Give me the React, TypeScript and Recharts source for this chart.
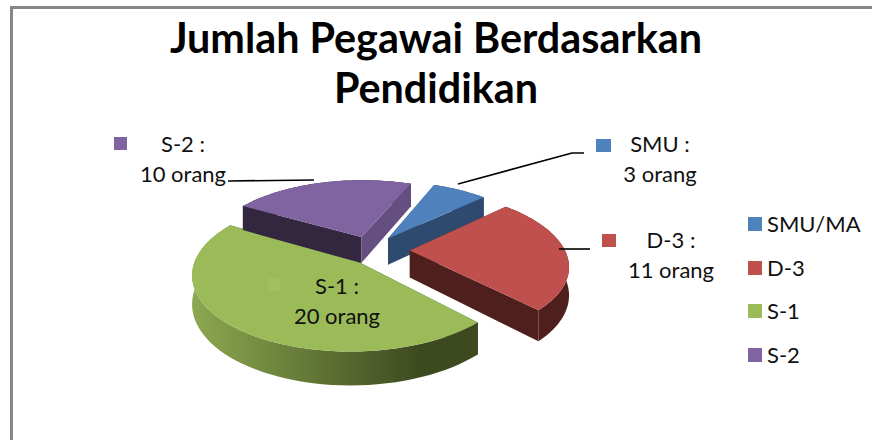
import React from "react";
import { PieChart, Pie, Cell, Legend } from "recharts";

const titleLines = ["Jumlah Pegawai Berdasarkan", "Pendidikan"];
const legendNames = ["SMU/MA", "D-3", "S-1", "S-2"];
const labelNames = ["SMU", "D-3", "S-1", "S-2"];
const values = [3, 11, 20, 10];
const unit = "orang";
const topColors = ["#4f81bd", "#c0504d", "#9bbb59", "#8064a2"];
const wallFrom = ["#2e4a6e", "#4f1f1e", "#8ca850", "#33263f"];
const wallTo = ["#2e4a6e", "#4f1f1e", "#3d4a1f", "#33263f"];
const startFace = ["#2e4a6e", "#4f1f1e", "#3d4a1f", "#33263f"];
const endFace = ["#2e4a6e", "#4f1f1e", "#3d4a1f", "#644f80"];
const labelKeyColors = ["#4f81bd", "#c0504d", "#a2be60", "#8064a2"];
const explodeBy = [0.2, 0.25, 0.17, 0.2];

const W = 872;
const H = 440;
const SQUASH = 0.46;
const PERSP = 0.18;
const DEPTH = 27;
const FONT = "Lato, 'Noto Sans', sans-serif";

const labelLayout = [
  { key: [596, 139, 15, 13], cx: 660, y1: 152, y2: 182, line: "458,184 572,153 584,153" },
  { key: [602, 234, 14, 13], cx: 671, y1: 248, y2: 278, line: "559,249 590,249" },
  { key: [268, 278, 12, 13], cx: 337, y1: 294, y2: 324, line: "" },
  { key: [114, 137, 13, 13], cx: 183, y1: 152, y2: 182, line: "228,181 314,180" },
];

function project(cx: number, cy: number, R: number, X: number, Z: number) {
  const f = 1 / (1 + PERSP * Z);
  return { x: cx + R * X * f, y: cy - R * SQUASH * Z * f, d: DEPTH * f };
}

function Slice3D(props: any) {
  const { cx, cy, outerRadius: R, startAngle, endAngle, index } = props;
  const rad = Math.PI / 180;
  const mid = ((startAngle + endAngle) / 2) * rad;
  const ex = explodeBy[index] * Math.cos(mid);
  const ez = explodeBy[index] * Math.sin(mid);
  const steps = 60;
  const arc = [];
  for (let i = 0; i <= steps; i++) {
    const a = (startAngle + ((endAngle - startAngle) * i) / steps) * rad;
    arc.push(project(cx, cy, R, ex + Math.cos(a), ez + Math.sin(a)));
  }
  const apex = project(cx, cy, R, ex, ez);
  const pts = (list: { x: number; y: number }[]) => list.map((p) => `${p.x.toFixed(1)},${p.y.toFixed(1)}`).join(" ");
  const low = (p: { x: number; y: number; d: number }) => ({ x: p.x, y: p.y + p.d });
  const first = arc[0];
  const last = arc[arc.length - 1];
  const gid = `wall-${index}`;
  return (
    <g>
      <defs>
        <linearGradient id={gid} x1="0" y1="0" x2="1" y2="0">
          <stop offset="0" stopColor={wallFrom[index]} />
          <stop offset="0.8" stopColor={wallTo[index]} />
          <stop offset="1" stopColor={wallTo[index]} />
        </linearGradient>
      </defs>
      <polygon points={pts([...arc, ...arc.map(low).reverse()])} fill={`url(#${gid})`} />
      <polygon points={pts([apex, first, low(first), low(apex)])} fill={startFace[index]} />
      <polygon points={pts([apex, last, low(last), low(apex)])} fill={endFace[index]} />
      <polygon points={pts([apex, ...arc])} fill={topColors[index]} />
    </g>
  );
}

function SliceLabel(props: any) {
  const { index, value } = props;
  const l = labelLayout[index];
  return (
    <g>
      {l.line ? <polyline points={l.line} fill="none" stroke="#000" strokeWidth={1.6} /> : null}
      <rect x={l.key[0]} y={l.key[1]} width={l.key[2]} height={l.key[3]} fill={labelKeyColors[index]} />
      <text x={l.cx} y={l.y1} textAnchor="middle" fontFamily={FONT} fontSize={22} fill="#111">
        {`${labelNames[index]} :`}
      </text>
      <text x={l.cx} y={l.y2} textAnchor="middle" fontFamily={FONT} fontSize={22} fill="#111">
        {`${value} ${unit}`}
      </text>
    </g>
  );
}

function LegendBox({ payload }: any) {
  return (
    <div style={{ fontFamily: FONT, fontSize: 22, color: "#111" }}>
      {(payload || []).map((p: any, i: number) => (
        <div key={i} style={{ position: "relative", height: 43.5, lineHeight: "16px", whiteSpace: "nowrap" }}>
          <span style={{ position: "absolute", left: 0, top: 1, width: 14, height: 14, background: topColors[i] }} />
          <span style={{ position: "absolute", left: 19, top: 0 }}>{p.value}</span>
        </div>
      ))}
    </div>
  );
}

const rows = legendNames.map((name, i) => ({ name, value: values[i] }));

export default function App() {
  return (
    <div style={{ position: "absolute", left: 0, top: 0, width: W, height: H, background: "#fff", overflow: "hidden" }}>
      <div style={{ position: "absolute", left: 10, top: 6, width: 870, height: 440, borderLeft: "3px solid #868686", borderTop: "3px solid #868686" }} />
      <div style={{ position: "absolute", left: 0, top: 12, width: 872, textAlign: "center", fontFamily: FONT, fontWeight: 700, fontSize: 41.3, lineHeight: "50px", color: "#000" }}>
        {titleLines.map((t) => (
          <div key={t}>{t}</div>
        ))}
      </div>
      <div style={{ position: "absolute", left: 0, top: 0 }}>
        <PieChart width={W} height={H} margin={{ top: 0, right: 0, bottom: 0, left: 0 }}>
          <Pie
            data={rows}
            dataKey="value"
            nameKey="name"
            cx={371}
            cy={250}
            outerRadius={155}
            startAngle={68}
            endAngle={-292}
            paddingAngle={0}
            stroke="none"
            shape={Slice3D}
            label={SliceLabel}
            labelLine={false}
            isAnimationActive={false}
          >
            {rows.map((r, i) => (
              <Cell key={r.name} fill={topColors[i]} />
            ))}
          </Pie>
          <Legend
            layout="vertical"
            align="right"
            verticalAlign="top"
            itemSorter={null}
            content={LegendBox}
            wrapperStyle={{ position: "absolute", left: 748, top: 216, width: 120 }}
          />
        </PieChart>
      </div>
    </div>
  );
}
